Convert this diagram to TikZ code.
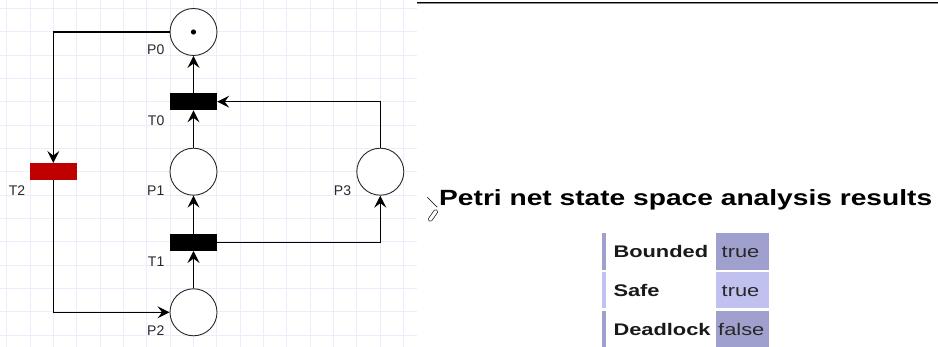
\documentclass[tikz,border=0pt]{standalone}
\usepackage{fontspec}
\usepackage{tikz}
\usetikzlibrary{arrows.meta,calc,positioning}
\setmainfont{Liberation Sans}
\newfontfamily\uifont[FakeStretch=1.3]{Liberation Sans}
\newfontfamily\titlefont[FakeStretch=1.28]{Liberation Sans}
\definecolor{gridlav}{RGB}{236,236,252}
\definecolor{firered}{RGB}{192,0,0}
\definecolor{cellblue}{RGB}{160,160,206}
\definecolor{celllight}{RGB}{193,193,239}
\definecolor{inkgrey}{RGB}{40,40,40}

\tikzset{
  place/.style={circle,draw=inkgrey,line width=0.9pt,minimum size=47pt,inner sep=0pt,fill=white},
  trans/.style={rectangle,fill=black,minimum width=47pt,minimum height=17pt,inner sep=0pt},
  arc/.style={draw=black,line width=1.2pt,-{Stealth[length=12pt,width=12pt,inset=4.5pt]}},
  lbl/.style={anchor=base east,font=\fontsize{14}{16}\selectfont,text=inkgrey,inner sep=0pt},
  rowname/.style={anchor=base west,inner sep=0pt,font=\uifont\bfseries\fontsize{16.8}{18}\selectfont,text=black!90},
  rowval/.style={anchor=base west,inner sep=0pt,font=\uifont\fontsize{16.8}{18}\selectfont,text=inkgrey}
}

\begin{document}
\begin{tikzpicture}[x=1pt,y=-1pt]
    \useasboundingbox (0,0) rectangle (938,347);

    % Canvas grid
    \foreach \i in {0,...,17}
      \draw[gridlav,line width=0.9pt] (6.7+23.333*\i,0) -- (6.7+23.333*\i,347);
    \foreach \j in {0,...,14}
      \draw[gridlav,line width=0.9pt] (0,8.3+23.333*\j) -- (417,8.3+23.333*\j);

    % Top rule of the results panel
    \draw[black!45,line width=2.4pt] (417,3) -- (938,3);
    \draw[black,line width=1.1pt] (417,2.8) -- (938,2.8);

    % Places
    \node[place] (P0) at (193.5,32) {};
    \node[place] (P1) at (193.5,171.7) {};
    \node[place] (P2) at (193.5,312.3) {};
    \node[place] (P3) at (380.3,171.7) {};
    \fill[black] (P0.center) circle (2.6);

    % Transitions
    \node[trans] (T0) at (193.5,101.7) {};
    \node[trans] (T1) at (193.5,242.3) {};
    \node[trans,fill=firered] (T2) at (53.3,171.7) {};

    % Labels
    \node[lbl] (P0l) at ($(P0)+(-29,23)$) {P0};
    \node[lbl] (P1l) at ($(P1)+(-29,24)$) {P1};
    \node[lbl] (P2l) at ($(P2)+(-29,23)$) {P2};
    \node[lbl] (P3l) at ($(P3)+(-29,24)$) {P3};
    \node[lbl] (T0l) at ($(T0)+(-29,24)$) {T0};
    \node[lbl] (T1l) at ($(T1)+(-29,24)$) {T1};
    \node[lbl] (T2l) at ($(T2)+(-28,24)$) {T2};

    % Arcs
    \draw[arc] (T0) -- (P0);
    \draw[arc] (P1) -- (T0);
    \draw[arc] (T1) -- (P1);
    \draw[arc] (P2) -- (T1);
    \draw[arc] (P3.north) |- (T0.east);
    \draw[arc] (T1.east) -| (P3.south);
    \draw[arc] (P0.west) -| (T2.north);
    \draw[arc] (T2.south) |- (P2.west);

    % Cursor left over on the title
    \draw[black,line width=0.5pt] (427.3,197.3) -- (437.3,207.3);
    \draw[black,line width=0.5pt,rounded corners=1.5pt,rotate around={55:(433,215.5)}]
      (426.5,213.5) rectangle (439.5,217.5);

    % Results title
    \node[anchor=base west,inner sep=0pt,font=\titlefont\bfseries\fontsize{22}{24}\selectfont] (title)
      at (439,206) {Petri net state space analysis results};

    % Results table
    \fill[cellblue]  (602.3,233)   rectangle (605.7,269.7);
    \fill[cellblue]  (715.5,233)   rectangle (769,269.7);
    \fill[celllight] (602.3,272.3) rectangle (605.7,308);
    \fill[celllight] (715.5,272.3) rectangle (769,308);
    \fill[cellblue]  (602.3,311)   rectangle (605.7,347);
    \fill[cellblue]  (715.5,311)   rectangle (769,347);

    \node[rowname] (bnd) at (613.3,258) {Bounded};
    \node[rowval]  (bndv) at (721.5,258) {true};
    \node[rowname] (safe) at (613.3,296.5) {Safe};
    \node[rowval]  (safev) at (721.5,296.5) {true};
    \node[rowname] (dead) at (613.3,335.3) {Deadlock};
    \node[rowval]  (deadv) at (718,335.3) {false};
\end{tikzpicture}
\end{document}
